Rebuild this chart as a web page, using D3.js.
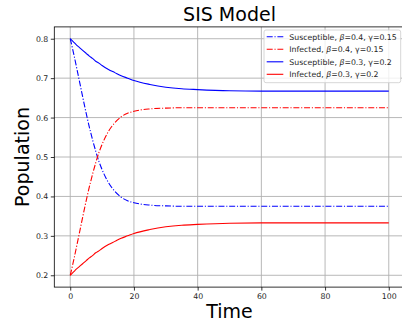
<!DOCTYPE html>
<html>
<head>
<meta charset="utf-8">
<script src="https://cdn.jsdelivr.net/npm/d3@7"></script>
<style>
body { margin: 0; background: #fff; }
svg { display: block; font-family: "DejaVu Sans", sans-serif; }
</style>
</head>
<body>
<div id="chart-area"></div>
<script>
// SIS model
var time = [0, 1, 2, 3, 4, 5, 6, 7, 8, 9, 10, 12, 14, 16, 18, 20, 25, 30, 35, 40, 50, 60, 70, 80, 90, 100];
var susA = [0.800, 0.765, 0.727, 0.688, 0.649, 0.611, 0.576, 0.544, 0.515, 0.489, 0.468, 0.435, 0.413, 0.398, 0.389, 0.384, 0.378, 0.376, 0.375, 0.375, 0.375, 0.375, 0.375, 0.375, 0.375, 0.375];
var infA = [0.200, 0.235, 0.273, 0.312, 0.351, 0.389, 0.424, 0.456, 0.485, 0.511, 0.532, 0.565, 0.587, 0.602, 0.611, 0.616, 0.622, 0.624, 0.625, 0.625, 0.625, 0.625, 0.625, 0.625, 0.625, 0.625];
var susB = [0.800, 0.792, 0.784, 0.777, 0.770, 0.763, 0.756, 0.750, 0.743, 0.738, 0.732, 0.722, 0.714, 0.706, 0.700, 0.694, 0.684, 0.677, 0.673, 0.671, 0.668, 0.667, 0.667, 0.667, 0.667, 0.667];
var infB = [0.200, 0.208, 0.216, 0.223, 0.230, 0.237, 0.244, 0.250, 0.257, 0.262, 0.268, 0.278, 0.286, 0.294, 0.300, 0.306, 0.316, 0.323, 0.327, 0.329, 0.332, 0.333, 0.333, 0.333, 0.333, 0.333];

var xTicks = [0, 20, 40, 60, 80, 100];
var yTicks = [0.2, 0.3, 0.4, 0.5, 0.6, 0.7, 0.8];

var series = [
    {name: "Susceptible", beta: "0.4", gamma: "0.15", values: susA, color: "#0000ff", dash: "6,1.8,1.1,1.8"},
    {name: "Infected", beta: "0.4", gamma: "0.15", values: infA, color: "#ff0000", dash: "6,1.8,1.1,1.8"},
    {name: "Susceptible", beta: "0.3", gamma: "0.2", values: susB, color: "#0000ff", dash: null},
    {name: "Infected", beta: "0.3", gamma: "0.2", values: infB, color: "#ff0000", dash: null}
];

var W = 402, H = 324;
var box = {left: 54.3, right: 404.7, top: 26.9, bottom: 287.1};

var svg = d3.select("#chart-area").append("svg")
    .attr("width", W)
    .attr("height", H);

var x = d3.scaleLinear().domain([-5, 105]).range([box.left, box.right]);
var y = d3.scaleLinear().domain([0.17, 0.83]).range([box.bottom, box.top]);

// grid
svg.append("g").selectAll("line")
    .data(xTicks).enter().append("line")
    .attr("x1", d => x(d)).attr("x2", d => x(d))
    .attr("y1", box.top).attr("y2", box.bottom)
    .attr("stroke", "#b0b0b0").attr("stroke-width", 0.9);
svg.append("g").selectAll("line")
    .data(yTicks).enter().append("line")
    .attr("x1", box.left).attr("x2", box.right)
    .attr("y1", d => y(d)).attr("y2", d => y(d))
    .attr("stroke", "#b0b0b0").attr("stroke-width", 0.9);

// lines
var line = d3.line()
    .x((d, i) => x(time[i]))
    .y(d => y(d))
    .curve(d3.curveMonotoneX);

series.forEach(s => {
    svg.append("path")
        .attr("d", line(s.values))
        .attr("fill", "none")
        .attr("stroke", s.color)
        .attr("stroke-width", 1.1)
        .attr("stroke-dasharray", s.dash);
});

// axes
var xAxis = d3.axisBottom(x).tickValues(xTicks).tickSize(3.5).tickPadding(3);
var yAxis = d3.axisLeft(y).tickValues(yTicks).tickFormat(d3.format(".1f")).tickSize(3.5).tickPadding(2.5);

var xg = svg.append("g").attr("transform", "translate(0," + box.bottom + ")").call(xAxis);
var yg = svg.append("g").attr("transform", "translate(" + box.left + ",0)").call(yAxis);
[xg, yg].forEach(g => {
    g.select(".domain").remove();
    g.selectAll("line").attr("stroke", "#000").attr("stroke-width", 0.8);
    g.selectAll("text").attr("font-size", "7.8px").attr("fill", "#262626")
        .attr("font-family", "DejaVu Sans");
});

// spines
svg.append("rect")
    .attr("x", box.left).attr("y", box.top)
    .attr("width", box.right - box.left).attr("height", box.bottom - box.top)
    .attr("fill", "none").attr("stroke", "#000").attr("stroke-width", 0.8);

// title and labels
svg.append("text")
    .attr("x", (box.left + box.right) / 2).attr("y", 20.7)
    .attr("text-anchor", "middle")
    .attr("font-size", "19px")
    .text("SIS Model");

svg.append("text")
    .attr("x", (box.left + box.right) / 2).attr("y", 318)
    .attr("text-anchor", "middle")
    .attr("font-size", "19px")
    .text("Time");

svg.append("text")
    .attr("transform", "translate(29," + ((box.top + box.bottom) / 2) + ") rotate(-90)")
    .attr("text-anchor", "middle")
    .attr("font-size", "19px")
    .text("Population");

// legend
var lg = svg.append("g").attr("transform", "translate(264,30)");
lg.append("rect")
    .attr("width", 136.7).attr("height", 52.7)
    .attr("rx", 2).attr("ry", 2)
    .attr("fill", "#fff").attr("fill-opacity", 0.8)
    .attr("stroke", "#cccccc").attr("stroke-width", 0.8);

series.forEach((s, i) => {
    var yy = 6.8 + i * 12.5;
    lg.append("line")
        .attr("x1", 2.7).attr("x2", 19.3)
        .attr("y1", yy).attr("y2", yy)
        .attr("stroke", s.color).attr("stroke-width", 1.1)
        .attr("stroke-dasharray", s.dash);
    var t = lg.append("text")
        .attr("x", 25.3).attr("y", yy + 2.8)
        .attr("font-size", "7.8px")
        .attr("fill", "#262626");
    t.append("tspan").text(s.name + ", ");
    t.append("tspan").attr("font-style", "italic").text("\u03b2");
    t.append("tspan").text("=" + s.beta + ", \u03b3=" + s.gamma);
});
</script>
</body>
</html>
